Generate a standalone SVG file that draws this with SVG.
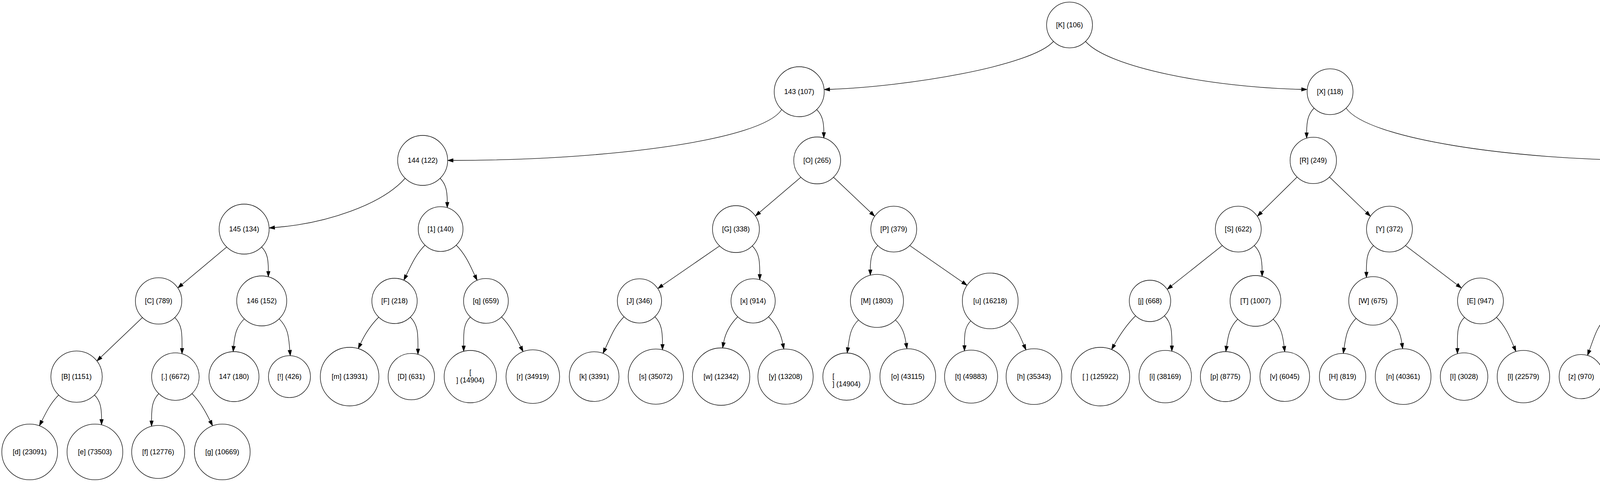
<svg xmlns="http://www.w3.org/2000/svg" width="5175" height="1235" viewBox="0 0 5175 1235">
<defs>
<style>
.n circle{fill:#fff;stroke:#000;stroke-width:1.3}
text{font-family:"Liberation Sans",Arial,sans-serif;font-size:18px;text-anchor:middle;fill:#000}
.e path{fill:none;stroke:#000;stroke-width:1.3;marker-end:url(#ah)}
</style>
<marker id="ah" markerUnits="userSpaceOnUse" markerWidth="16" markerHeight="12" refX="0" refY="5" orient="auto" overflow="visible"><path d="M0,0.4 L14,5 L0,9.6 z" fill="#000" stroke="#000" stroke-width="1"/></marker>
</defs>
<rect width="5175" height="1235" fill="#fff"/>
<g id="edges" class="e">
<path d="M2697,106 C2640,170 2320,222 2124,229"/>
<path d="M2779,106 C2835,172 3100,224 3332,229"/>
<path d="M2001,281 C1950,360 1550,411 1160,411"/>
<path d="M3446,277 C3500,355 3870,411 4233,411"/>
<path d="M1037,457 C978,524 835,573 703,583"/>
<path d="M4340,451 C4402,517 4546,573 4675,583"/>
<path d="M2091,281 C2105.6,295.6 2109,313.2 2109,339.5"/>
<path d="M3363.9,277.3 C3348.2,293 3345,311.8 3345,340.1"/>
<path d="M4263.5,450.6 C4246,468.1 4247,489.2 4247,520.7"/>
<path d="M1126.8,457 C1142.1,472.3 1145,490.7 1145,518.3"/>
<path d="M669.8,633 C685.4,648.6 687,667.3 687,695.3"/>
<path d="M1926,630.2 C1944.2,648.4 1945,670.2 1945,703"/>
<path d="M2246.9,629.3 C2231.4,644.8 2228,663.4 2228,691.3"/>
<path d="M3211.1,629.3 C3227.4,645.6 3231,665.1 3231,694.3"/>
<path d="M3515.9,629.3 C3498.9,646.3 3498,666.6 3498,697.2"/>
<path d="M4705.9,628.3 C4689.1,645.1 4687,665.2 4687,695.3"/>
<path d="M447.6,813.8 C467.3,833.5 466,857.1 466,892.6"/>
<path d="M1050.6,812.8 C1070.9,833.1 1070,857.5 1070,894.1"/>
<path d="M1203.9,812.3 C1185.4,830.8 1187,852.9 1187,886.2"/>
<path d="M1676.6,811.8 C1694.3,829.5 1696,850.6 1696,882.4"/>
<path d="M2485,822.4 C2469.3,838.1 2469,857 2469,885.3"/>
<path d="M2981.1,809.2 C3000.3,828.4 3000,851.4 3000,886"/>
<path d="M3748.9,813.3 C3729.1,833.1 3731,856.9 3731,892.6"/>
<path d="M4189.6,809.7 C4210.3,830.4 4208,855.3 4208,892.6"/>
<path d="M4335.4,813.8 C4314.8,834.4 4317,859.2 4317,896.3"/>
<path d="M4941.9,813.3 C4922.9,832.3 4923,855.1 4923,889.3"/>
<path d="M242,1012.3 C257.6,1027.9 260,1046.6 260,1074.7"/>
<path d="M406.4,1008.8 C389,1026.2 388,1047 388,1078.3"/>
<path d="M1087.9,628.3 C1064.7,651.5 1053.2,677.7 1039.8,705.5"/>
<path d="M1168.1,628.3 C1191.3,651.5 1202.4,677.6 1215.5,705.6"/>
<path d="M4225.5,626.6 C4201,651.1 4191,678.4 4178,708.4"/>
<path d="M4302.5,626.6 C4325.3,649.4 4338.1,674.8 4350.4,702.6"/>
<path d="M625.2,817.1 C604.2,838.1 600.6,859.2 598.1,887.1"/>
<path d="M714.8,817.1 C738.9,841.2 739,865.4 741.9,897.4"/>
<path d="M969.4,812.8 C949.1,833.1 934.2,856 922.9,880.6"/>
<path d="M1284.1,812.3 C1307,835.2 1319.4,861.2 1333,888.5"/>
<path d="M1597.4,811.8 C1573.1,836.1 1563.2,863.5 1549.5,892.9"/>
<path d="M1888.4,811.8 C1868.6,831.6 1857.2,851.8 1852.4,877.8"/>
<path d="M1967.6,811.8 C1988.3,832.5 1998.8,853.6 2004,880.7"/>
<path d="M2197.5,819.9 C2176.3,841.1 2175,862.7 2170.8,890.7"/>
<path d="M2292.5,819.9 C2310.5,837.9 2315.9,856.1 2319.6,879.8"/>
<path d="M2585,822.4 C2603.4,840.8 2611.3,861.2 2621,883.7"/>
<path d="M2906.9,809.2 C2884.6,831.5 2866.9,857.6 2852.4,883.5"/>
<path d="M3168.5,817.8 C3147.7,838.6 3144,859.7 3140.1,887.1"/>
<path d="M3259.5,817.8 C3280.4,838.7 3283.8,859.8 3287.3,887.5"/>
<path d="M3471.5,815.8 C3448.7,838.6 3445.3,861.7 3440.8,891.8"/>
<path d="M3558.5,815.8 C3577.7,835 3585.3,854.4 3588.9,879.7"/>
<path d="M3831.1,813.3 C3853.4,835.6 3863.9,860.2 3875.4,887.7"/>
<path d="M4114.4,809.7 C4088,836.1 4080.9,864.5 4068.8,897.6"/>
<path d="M4418.6,813.8 C4442.3,837.5 4449.2,863 4459.6,892.8"/>
<path d="M4659.2,817.1 C4637.4,838.9 4633.9,861 4629.4,889.7"/>
<path d="M4748.8,817.1 C4767.6,835.9 4774.6,855 4778.3,879.8"/>
<path d="M5024.1,813.3 C5045.8,835 5058.5,859.5 5070.9,885.6"/>
<path d="M150,1012.3 C130.1,1032.2 118.8,1054.8 107,1078.5"/>
<path d="M491.6,1008.8 C512.5,1029.7 525.5,1053.6 538,1078.5"/>
<path d="M2050,454.2 L1944.4,544.3"/>
<path d="M2134,454.2 L2229.1,544.5"/>
<path d="M3320.4,453.8 L3228.7,544.3"/>
<path d="M3403.6,453.8 L3498.2,544.4"/>
<path d="M580.2,633.1 L466,728.7"/>
<path d="M1842,630.2 L1695.5,731.3"/>
<path d="M2329.1,629.3 L2464.2,723"/>
<path d="M3128.9,629.3 L2999,732.6"/>
<path d="M3598.1,629.3 L3730.2,729.6"/>
<path d="M4786.1,628.3 L4923,729.8"/>
<path d="M364.4,813.8 L258.1,915.3"/>
</g>
<g id="n_K" class="n"><circle cx="2738" cy="64" r="58.7"/><text x="2738" y="70">[K] (106)</text></g>
<g id="n_143" class="n"><circle cx="2046" cy="235" r="64"/><text x="2046" y="241">143 (107)</text></g>
<g id="n_X" class="n"><circle cx="3405" cy="235" r="58.7"/><text x="3405" y="241">[X] (118)</text></g>
<g id="n_144" class="n"><circle cx="1082" cy="411" r="64"/><text x="1082" y="417">144 (122)</text></g>
<g id="n_O" class="n"><circle cx="2092" cy="411" r="60"/><text x="2092" y="417">[O] (265)</text></g>
<g id="n_R" class="n"><circle cx="3362" cy="411" r="59.4"/><text x="3362" y="417">[R] (249)</text></g>
<g id="n_lbr" class="n"><circle cx="4302" cy="411" r="55"/><text x="4302" y="417">[[] (198)</text></g>
<g id="n_145" class="n"><circle cx="625" cy="587" r="64"/><text x="625" y="593">145 (134)</text></g>
<g id="n_1" class="n"><circle cx="1128" cy="587" r="57.3"/><text x="1128" y="593">[1] (140)</text></g>
<g id="n_G" class="n"><circle cx="1884" cy="587" r="60"/><text x="1884" y="593">[G] (338)</text></g>
<g id="n_P" class="n"><circle cx="2288" cy="587" r="58.7"/><text x="2288" y="593">[P] (379)</text></g>
<g id="n_S" class="n"><circle cx="3170" cy="587" r="58.7"/><text x="3170" y="593">[S] (622)</text></g>
<g id="n_Y" class="n"><circle cx="3557" cy="587" r="58.7"/><text x="3557" y="593">[Y] (372)</text></g>
<g id="n_rbr" class="n"><circle cx="4264" cy="587" r="55"/><text x="4264" y="593">[]] (198)</text></g>
<g id="n_q2" class="n"><circle cx="4746" cy="587" r="57.3"/><text x="4746" y="593">[?] (479)</text></g>
<g id="n_C" class="n"><circle cx="406" cy="771" r="59.4"/><text x="406" y="777">[C] (789)</text></g>
<g id="n_146" class="n"><circle cx="670" cy="771" r="64"/><text x="670" y="777">146 (152)</text></g>
<g id="n_F" class="n"><circle cx="1010" cy="771" r="58"/><text x="1010" y="777">[F] (218)</text></g>
<g id="n_q" class="n"><circle cx="1244" cy="771" r="57.3"/><text x="1244" y="777">[q] (659)</text></g>
<g id="n_J" class="n"><circle cx="1637" cy="771" r="56.6"/><text x="1637" y="777">[J] (346)</text></g>
<g id="n_x" class="n"><circle cx="1928" cy="771" r="56.6"/><text x="1928" y="777">[x] (914)</text></g>
<g id="n_M" class="n"><circle cx="2245" cy="771" r="67.9"/><text x="2245" y="777">[M] (1803)</text></g>
<g id="n_u" class="n"><circle cx="2535" cy="771" r="71.4"/><text x="2535" y="777">[u] (16218)</text></g>
<g id="n_j" class="n"><circle cx="2944" cy="771" r="53"/><text x="2944" y="777">[j] (668)</text></g>
<g id="n_T" class="n"><circle cx="3214" cy="771" r="65"/><text x="3214" y="777">[T] (1007)</text></g>
<g id="n_W" class="n"><circle cx="3515" cy="771" r="62.2"/><text x="3515" y="777">[W] (675)</text></g>
<g id="n_E" class="n"><circle cx="3790" cy="771" r="58.7"/><text x="3790" y="777">[E] (947)</text></g>
<g id="n_colon" class="n"><circle cx="4152" cy="771" r="53.7"/><text x="4152" y="777">[:] (292)</text></g>
<g id="n_N" class="n"><circle cx="4377" cy="771" r="59.4"/><text x="4377" y="777">[N] (325)</text></g>
<g id="n_us" class="n"><circle cx="4704" cy="771" r="64"/><text x="4704" y="777">[_] (1096)</text></g>
<g id="n_A" class="n"><circle cx="4983" cy="771" r="58.7"/><text x="4983" y="777">[A] (690)</text></g>
<g id="n_B" class="n"><circle cx="196" cy="965" r="65.7"/><text x="196" y="971">[B] (1151)</text></g>
<g id="n_dot" class="n"><circle cx="449" cy="965" r="60.8"/><text x="449" y="971">[.] (6672)</text></g>
<g id="n_147" class="n"><circle cx="599" cy="965" r="64"/><text x="599" y="971">147 (180)</text></g>
<g id="n_excl" class="n"><circle cx="741" cy="965" r="53.7"/><text x="741" y="971">[!] (426)</text></g>
<g id="n_m" class="n"><circle cx="895" cy="965" r="75"/><text x="895" y="971">[m] (13931)</text></g>
<g id="n_D" class="n"><circle cx="1053" cy="965" r="59.4"/><text x="1053" y="971">[D] (631)</text></g>
<g id="n_lf" class="n"><circle cx="1204" cy="965" r="67"/><text x="1204" y="960">[</text><text x="1204" y="980">] (14904)</text></g>
<g id="n_r" class="n"><circle cx="1364" cy="965" r="68.6"/><text x="1364" y="971">[r] (34919)</text></g>
<g id="n_k" class="n"><circle cx="1521" cy="965" r="63.6"/><text x="1521" y="971">[k] (3391)</text></g>
<g id="n_s" class="n"><circle cx="1679" cy="965" r="70.7"/><text x="1679" y="971">[s] (35072)</text></g>
<g id="n_w" class="n"><circle cx="1846" cy="965" r="73.5"/><text x="1846" y="971">[w] (12342)</text></g>
<g id="n_y" class="n"><circle cx="2011" cy="965" r="70.7"/><text x="2011" y="971">[y] (13208)</text></g>
<g id="n_cr" class="n"><circle cx="2167" cy="965" r="60.5"/><text x="2131" y="970" style="text-anchor:start">[</text><text x="2131" y="990" style="text-anchor:start">] (14904)</text></g>
<g id="n_o" class="n"><circle cx="2324" cy="965" r="71.4"/><text x="2324" y="971">[o] (43115)</text></g>
<g id="n_t" class="n"><circle cx="2486" cy="965" r="67.9"/><text x="2486" y="971">[t] (49883)</text></g>
<g id="n_h" class="n"><circle cx="2647" cy="965" r="71.4"/><text x="2647" y="971">[h] (35343)</text></g>
<g id="n_sp" class="n"><circle cx="2817" cy="965" r="75"/><text x="2817" y="971">[ ] (125922)</text></g>
<g id="n_i" class="n"><circle cx="2983" cy="965" r="67.2"/><text x="2983" y="971">[i] (38169)</text></g>
<g id="n_p" class="n"><circle cx="3137" cy="965" r="64"/><text x="3137" y="971">[p] (8775)</text></g>
<g id="n_v" class="n"><circle cx="3289" cy="965" r="63.6"/><text x="3289" y="971">[v] (6045)</text></g>
<g id="n_H" class="n"><circle cx="3437" cy="965" r="59.4"/><text x="3437" y="971">[H] (819)</text></g>
<g id="n_n" class="n"><circle cx="3592" cy="965" r="71.4"/><text x="3592" y="971">[n] (40361)</text></g>
<g id="n_I" class="n"><circle cx="3748" cy="965" r="60.8"/><text x="3748" y="971">[I] (3028)</text></g>
<g id="n_l" class="n"><circle cx="3900" cy="965" r="67.2"/><text x="3900" y="971">[l] (22579)</text></g>
<g id="n_z" class="n"><circle cx="4048" cy="965" r="56.6"/><text x="4048" y="971">[z] (970)</text></g>
<g id="n_comma" class="n"><circle cx="4191" cy="965" r="60.8"/><text x="4191" y="971">[,] (9994)</text></g>
<g id="n_L" class="n"><circle cx="4334" cy="965" r="57.3"/><text x="4334" y="971">[L] (895)</text></g>
<g id="n_semi" class="n"><circle cx="4479" cy="965" r="60.8"/><text x="4479" y="971">[;] (1704)</text></g>
<g id="n_dash" class="n"><circle cx="4625" cy="965" r="61.5"/><text x="4625" y="971">[-] (1434)</text></g>
<g id="n_a" class="n"><circle cx="4782" cy="965" r="71.4"/><text x="4782" y="971">[a] (44145)</text></g>
<g id="n_b" class="n"><circle cx="4940" cy="965" r="64"/><text x="4940" y="971">[b] (8613)</text></g>
<g id="n_c" class="n"><circle cx="5100" cy="965" r="70.7"/><text x="5100" y="971">[c] (14047)</text></g>
<g id="n_d" class="n"><circle cx="76" cy="1158" r="71.4"/><text x="76" y="1164">[d] (23091)</text></g>
<g id="n_e" class="n"><circle cx="243" cy="1158" r="71.4"/><text x="243" y="1164">[e] (73503)</text></g>
<g id="n_f" class="n"><circle cx="405" cy="1158" r="67.9"/><text x="405" y="1164">[f] (12776)</text></g>
<g id="n_g" class="n"><circle cx="569" cy="1158" r="71.4"/><text x="569" y="1164">[g] (10669)</text></g>
</svg>
